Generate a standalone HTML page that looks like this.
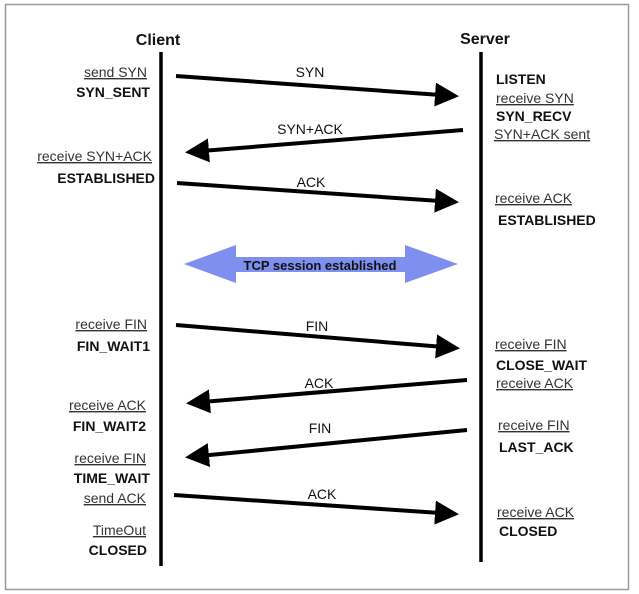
<!DOCTYPE html>
<html><head><meta charset="utf-8"><style>
html,body{margin:0;padding:0;background:#fff;}
svg{display:block;}
text{font-family:"Liberation Sans",Arial,sans-serif;font-size:14px;fill:#111;}
.b{font-weight:bold;}
.u{fill:#333;text-decoration:underline;}
</style></head><body>
<svg width="639" height="594" viewBox="0 0 639 594" xmlns="http://www.w3.org/2000/svg">
<defs>
<marker id="ah" markerWidth="6" markerHeight="6" refX="5" refY="3" orient="auto" markerUnits="strokeWidth">
<path d="M0,0 L6,3 L0,6 Z" fill="#000"/></marker>
</defs>
<rect x="5.5" y="4.5" width="623" height="585" fill="#fff" stroke="#999" stroke-width="1.5"/>
<text x="158" y="45" class="b" style="font-size:16px" text-anchor="middle">Client</text>
<text x="485" y="44" class="b" style="font-size:16px" text-anchor="middle">Server</text>
<line x1="161" y1="52" x2="161" y2="566" stroke="#000" stroke-width="3.5"/>
<line x1="481" y1="52" x2="481" y2="562" stroke="#000" stroke-width="3.5"/>
<g stroke="#000" stroke-width="4" fill="none" marker-end="url(#ah)">
<line x1="176" y1="76" x2="455" y2="96"/>
<line x1="463" y1="130" x2="189" y2="152"/>
<line x1="177" y1="183" x2="455" y2="202"/>
<line x1="176" y1="325" x2="456" y2="348"/>
<line x1="467" y1="380" x2="190" y2="403"/>
<line x1="467" y1="430" x2="189" y2="457"/>
<line x1="174" y1="495" x2="455" y2="514"/>
</g>
<polygon points="184,264 236,245 236,257 405,257 405,245 458,264 405,283 405,272 236,272 236,283" fill="#7f8ff0"/>
<text x="320" y="270" class="b" style="font-size:13px" text-anchor="middle">TCP session established</text>
<g text-anchor="middle">
<text x="310" y="77">SYN</text>
<text x="310" y="134">SYN+ACK</text>
<text x="311" y="187">ACK</text>
<text x="317" y="331">FIN</text>
<text x="319" y="388">ACK</text>
<text x="320" y="433">FIN</text>
<text x="322" y="499">ACK</text>
</g>
<g text-anchor="end">
<text x="147" y="77" class="u">send SYN</text>
<text x="150" y="97" class="b">SYN_SENT</text>
<text x="152" y="161" class="u">receive SYN+ACK</text>
<text x="155" y="183" class="b">ESTABLISHED</text>
<text x="147" y="329" class="u">receive FIN</text>
<text x="150" y="351" class="b">FIN_WAIT1</text>
<text x="146" y="410" class="u">receive ACK</text>
<text x="146" y="431" class="b">FIN_WAIT2</text>
<text x="146" y="463" class="u">receive FIN</text>
<text x="150" y="483" class="b">TIME_WAIT</text>
<text x="146" y="503" class="u">send ACK</text>
<text x="146" y="535" class="u">TimeOut</text>
<text x="147" y="555" class="b">CLOSED</text>
</g>
<text x="496" y="84" class="b">LISTEN</text>
<text x="496" y="103" class="u">receive SYN</text>
<text x="496" y="121" class="b">SYN_RECV</text>
<text x="494" y="139" class="u">SYN+ACK sent</text>
<text x="495" y="203" class="u">receive ACK</text>
<text x="498" y="225" class="b">ESTABLISHED</text>
<text x="495" y="349" class="u">receive FIN</text>
<text x="496" y="370" class="b">CLOSE_WAIT</text>
<text x="496" y="388" class="u">receive ACK</text>
<text x="498" y="430" class="u">receive FIN</text>
<text x="499" y="452" class="b">LAST_ACK</text>
<text x="497" y="517" class="u">receive ACK</text>
<text x="499" y="536" class="b">CLOSED</text>
</svg>
</body></html>
